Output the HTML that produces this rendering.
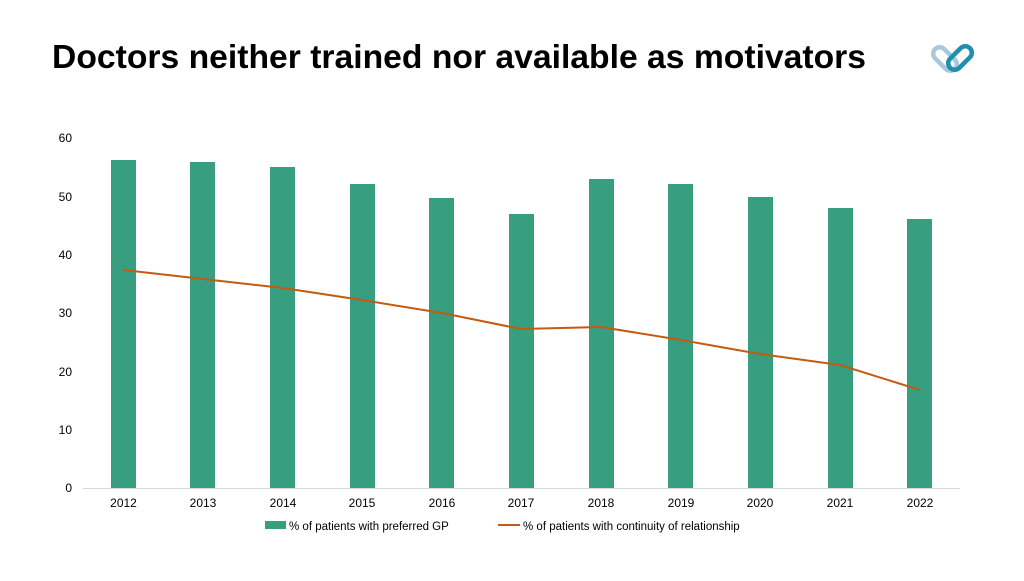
<!DOCTYPE html>
<html><head><meta charset="utf-8"><style>
body{margin:0;background:#fff;width:1024px;height:576px;overflow:hidden;font-family:"Liberation Sans",sans-serif}
</style></head><body>
<svg width="1024" height="576" xmlns="http://www.w3.org/2000/svg" font-family="Liberation Sans, sans-serif">
<text x="52" y="68" font-size="33" font-weight="bold" fill="#000" textLength="814" lengthAdjust="spacingAndGlyphs">Doctors neither trained nor available as motivators</text>
<g fill="none" stroke-width="4.5">
<rect x="-14" y="-6.5" width="28" height="13" rx="6.5" transform="translate(945,59) rotate(45)" stroke="#a9c8dc"/>
<rect x="-14" y="-6.5" width="28" height="13" rx="6.5" transform="translate(960,58) rotate(-45)" stroke="#1e8fb0"/>
</g>
<g font-size="12" fill="#000" text-anchor="end">
<text x="72" y="142">60</text><text x="72" y="201">50</text><text x="72" y="259">40</text>
<text x="72" y="317">30</text><text x="72" y="376">20</text><text x="72" y="434">10</text><text x="72" y="492">0</text>
</g>
<line x1="83" y1="488.5" x2="960" y2="488.5" stroke="#d9d9d9"/>
<g fill="#379e7f">
<rect x="111" y="160" width="25" height="328"/>
<rect x="190" y="162" width="25" height="326"/>
<rect x="270" y="167" width="25" height="321"/>
<rect x="350" y="184" width="25" height="304"/>
<rect x="429" y="198" width="25" height="290"/>
<rect x="509" y="214" width="25" height="274"/>
<rect x="589" y="179" width="25" height="309"/>
<rect x="668" y="184" width="25" height="304"/>
<rect x="748" y="197" width="25" height="291"/>
<rect x="828" y="208" width="25" height="280"/>
<rect x="907" y="219" width="25" height="269"/>
</g>
<polyline fill="none" stroke="#c55a11" stroke-width="2" points="123.5,270 203,279 283,288 362,300 442,313 521,329 601,327 681,340 760,354 840,365 920,390"/>
<g font-size="12" fill="#000" text-anchor="middle">
<text x="123.5" y="507">2012</text><text x="203" y="507">2013</text><text x="283" y="507">2014</text>
<text x="362" y="507">2015</text><text x="442" y="507">2016</text><text x="521" y="507">2017</text>
<text x="601" y="507">2018</text><text x="681" y="507">2019</text><text x="760" y="507">2020</text>
<text x="840" y="507">2021</text><text x="920" y="507">2022</text>
</g>
<rect x="265" y="521" width="21" height="8" fill="#379e7f"/>
<text x="289" y="530" font-size="11.5">% of patients with preferred GP</text>
<line x1="498" y1="525" x2="520" y2="525" stroke="#c55a11" stroke-width="2"/>
<text x="523" y="530" font-size="11.5">% of patients with continuity of relationship</text>
</svg>
</body></html>
